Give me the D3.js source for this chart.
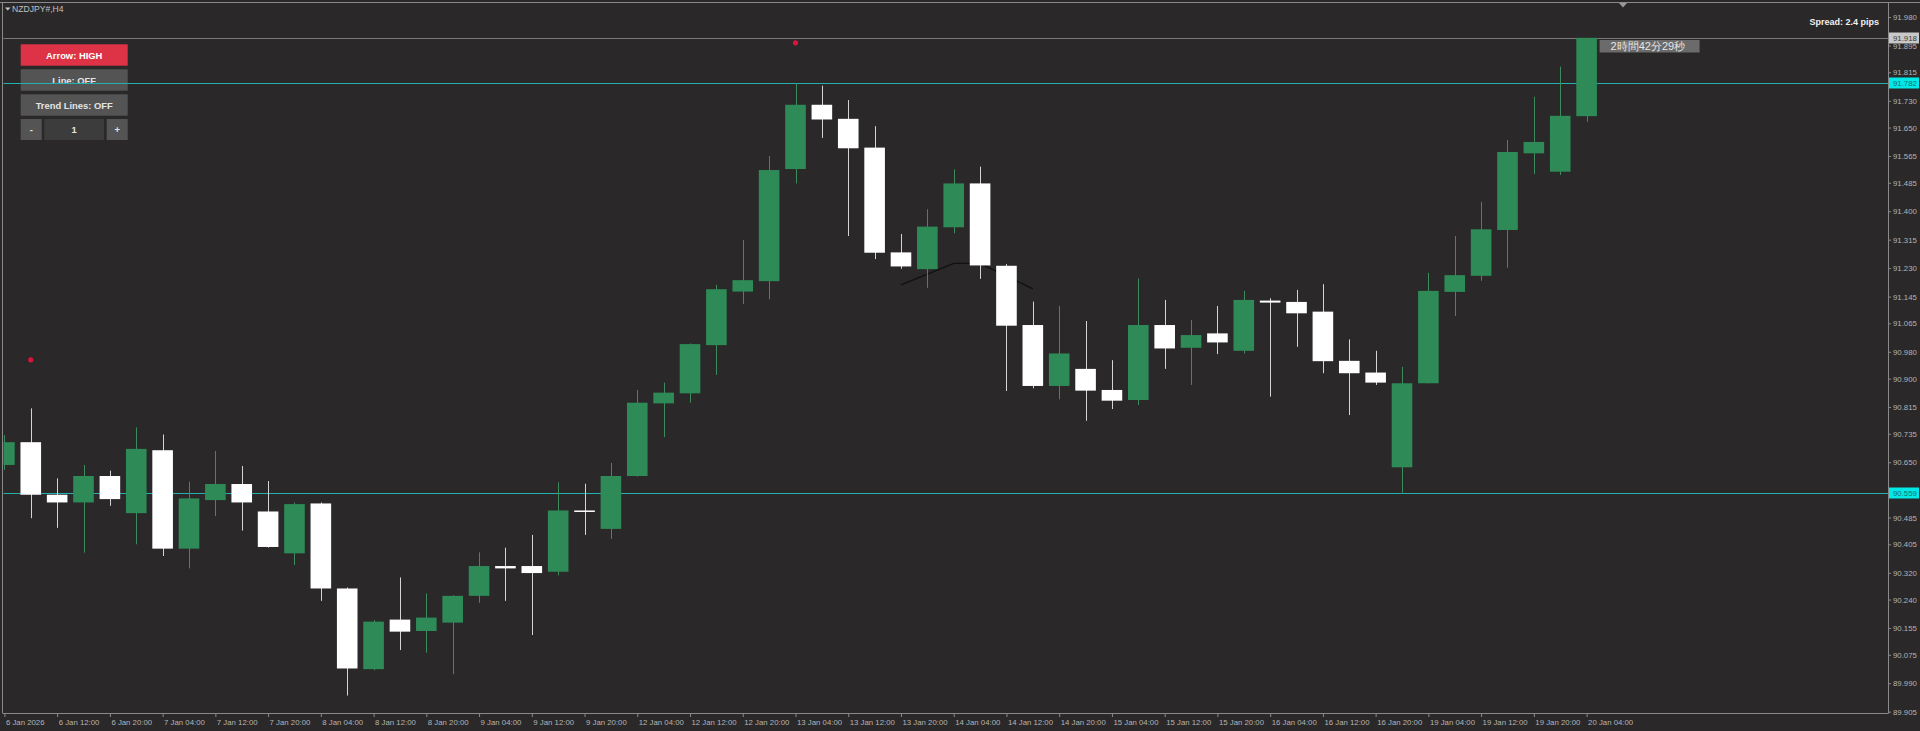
<!DOCTYPE html>
<html>
<head>
<meta charset="utf-8">
<script src="https://cdn.jsdelivr.net/npm/d3@7"></script>
<style>
	html, body { margin: 0; padding: 0; background: #2a2829; overflow: hidden; }
	svg { display: block; }
	text { font-family: "Liberation Sans", Arial, sans-serif; }
</style>
</head>
<body>
<svg id="main" width="1920" height="731"></svg>
<script>

// ---- data (NZDJPY#, H4) ----
const symbol = 'NZDJPY#,H4';

const xLabels = ['6 Jan 2026', '6 Jan 12:00', '6 Jan 20:00', '7 Jan 04:00', '7 Jan 12:00', '7 Jan 20:00',
	'8 Jan 04:00', '8 Jan 12:00', '8 Jan 20:00', '9 Jan 04:00', '9 Jan 12:00', '9 Jan 20:00',
	'12 Jan 04:00', '12 Jan 12:00', '12 Jan 20:00', '13 Jan 04:00', '13 Jan 12:00', '13 Jan 20:00',
	'14 Jan 04:00', '14 Jan 12:00', '14 Jan 20:00', '15 Jan 04:00', '15 Jan 12:00', '15 Jan 20:00',
	'16 Jan 04:00', '16 Jan 12:00', '16 Jan 20:00', '19 Jan 04:00', '19 Jan 12:00', '19 Jan 20:00',
	'20 Jan 04:00'];

const yTicks = [91.980, 91.895, 91.815, 91.730, 91.650, 91.565, 91.485, 91.400, 91.315, 91.230,
	91.145, 91.065, 90.980, 90.900, 90.815, 90.735, 90.650, 90.565, 90.485, 90.405, 90.320,
	90.240, 90.155, 90.075, 89.990, 89.905];

const opens = [90.642, 90.710, 90.553, 90.530, 90.609, 90.498, 90.686, 90.392, 90.537, 90.585,
	90.503, 90.378, 90.527, 90.273, 90.032, 90.180, 90.146, 90.171, 90.251, 90.340,
	90.340, 90.323, 90.506, 90.451, 90.609, 90.826, 90.856, 91.000, 91.160, 91.191,
	91.526, 91.718, 91.676, 91.590, 91.277, 91.227, 91.352, 91.483, 91.237, 91.060,
	90.878, 90.929, 90.866, 90.836, 91.060, 90.992, 91.035, 90.983, 91.133, 91.129,
	91.100, 90.953, 90.918, 90.635, 90.886, 91.159, 91.207, 91.344, 91.573, 91.518,
	91.684];
const highs = [90.731, 90.811, 90.602, 90.642, 90.625, 90.754, 90.733, 90.592, 90.684, 90.639,
	90.594, 90.530, 90.530, 90.276, 90.179, 90.306, 90.258, 90.253, 90.381, 90.395,
	90.433, 90.590, 90.586, 90.648, 90.866, 90.888, 91.005, 91.180, 91.314, 91.565,
	91.782, 91.775, 91.732, 91.654, 91.332, 91.406, 91.525, 91.533, 91.242, 91.130,
	91.117, 91.072, 90.955, 91.199, 91.135, 91.075, 91.117, 91.162, 91.140, 91.165,
	91.182, 91.017, 90.983, 90.935, 91.216, 91.326, 91.428, 91.613, 91.742, 91.832,
	91.918];
const lows = [90.627, 90.483, 90.454, 90.380, 90.520, 90.405, 90.370, 90.333, 90.489, 90.446,
	90.395, 90.343, 90.236, 89.953, 90.029, 90.089, 90.081, 90.017, 90.230, 90.236,
	90.134, 90.312, 90.433, 90.421, 90.607, 90.725, 90.828, 90.911, 91.123, 91.137,
	91.483, 91.619, 91.326, 91.257, 91.228, 91.171, 91.334, 91.198, 90.863, 90.871,
	90.838, 90.774, 90.809, 90.821, 90.929, 90.881, 90.973, 90.975, 90.846, 90.995,
	90.916, 90.791, 90.881, 90.559, 90.886, 91.087, 91.192, 91.231, 91.511, 91.508,
	91.667];
const closes = [90.710, 90.553, 90.530, 90.609, 90.540, 90.690, 90.392, 90.542, 90.585, 90.530,
	90.397, 90.525, 90.273, 90.034, 90.174, 90.144, 90.186, 90.251, 90.340, 90.333,
	90.319, 90.506, 90.504, 90.609, 90.828, 90.858, 91.003, 91.167, 91.194, 91.523,
	91.718, 91.674, 91.588, 91.276, 91.235, 91.354, 91.483, 91.238, 91.058, 90.878,
	90.975, 90.864, 90.834, 91.060, 90.990, 91.030, 91.008, 91.135, 91.127, 91.095,
	90.952, 90.916, 90.888, 90.886, 91.162, 91.209, 91.346, 91.577, 91.607, 91.685,
	91.918];

const levelLines = [91.782, 90.559];
const currentPrice = 91.918;
const arrowBars = [1, 30];
const arrowPrices = [90.956, 91.903];
const pathBars = [34, 36, 37, 39];
const pathPrices = [91.180, 91.244, 91.244, 91.168];
const spreadText = 'Spread: 2.4 pips';
const timerText = '2時間42分29秒';
const buttons = ['Arrow: HIGH', 'Line: OFF', 'Trend Lines: OFF'];

main();

function main() {

	let
		left = 3,
		top = 3,
		right = 1888,
		bottom = 713,
		bg = '#2a2829',
		green = '#2e8b57',
		frameCol = '#8a8a8a',
		labelCol = '#b4b4b4';

	let svg = d3.select('#main');

	svg.append('rect').attr('width', 1920).attr('height', 731).attr('fill', bg);

	let x = d3.scaleLinear().domain([0, opens.length - 1]).range([4.4, 1586.6]);
	let y = d3.scaleLinear().domain([89.901, 92.022]).range([bottom, top]);
	let bodyW = 20.6;

	svg.append('clipPath').attr('id', 'plot')
		.append('rect').attr('x', left + 0.5).attr('y', top).attr('width', right - left - 0.5).attr('height', bottom - top);

	// window frame
	svg.append('line').attr('x1', 0).attr('x2', 1920).attr('y1', 2.5).attr('y2', 2.5).attr('stroke', frameCol);
	svg.append('line').attr('x1', 2.5).attr('x2', 2.5).attr('y1', 2.5).attr('y2', bottom).attr('stroke', frameCol);

	// title
	svg.append('path').attr('d', 'M5,7.5 L10.5,7.5 L7.75,10.5 Z').attr('fill', '#c8c8c8');
	svg.append('text').attr('x', 12).attr('y', 12).attr('font-size', 8.6).attr('fill', '#c0c0c0').text(symbol);

	// buttons
	let btn = svg.append('g');
	buttons.forEach((b, k) => {
		btn.append('rect').attr('x', 20.7).attr('y', 44.3 + k * 25).attr('width', 107).attr('height', 21.4)
			.attr('fill', k === 0 ? '#de3346' : '#545454');
		btn.append('text').attr('x', 74.2).attr('y', 58.5 + k * 25).attr('text-anchor', 'middle')
			.attr('font-size', 9.4).attr('font-weight', 'bold').attr('fill', k === 0 ? '#ffffff' : '#e4e4e4').text(b);
	});
	[[20.7, 21, '-', '#545454'], [44.3, 59.7, '1', '#3c3c3c'], [106.7, 21, '+', '#545454']].forEach(d => {
		btn.append('rect').attr('x', d[0]).attr('y', 119).attr('width', d[1]).attr('height', 21).attr('fill', d[3]);
		btn.append('text').attr('x', d[0] + d[1] / 2).attr('y', 132.8).attr('text-anchor', 'middle')
			.attr('font-size', 9.4).attr('font-weight', 'bold').attr('fill', '#e4e4e4').text(d[2]);
	});

	let plot = svg.append('g').attr('clip-path', 'url(#plot)');

	// current price line
	plot.append('line').attr('x1', left).attr('x2', right)
		.attr('y1', Math.round(y(currentPrice)) + 0.5).attr('y2', Math.round(y(currentPrice)) + 0.5)
		.attr('stroke', '#7a7a7a');

	// level lines
	plot.selectAll('.level').data(levelLines).enter().append('line')
		.attr('class', 'level')
		.attr('x1', 0).attr('x2', right)
		.attr('y1', d => Math.round(y(d)) + 0.5).attr('y2', d => Math.round(y(d)) + 0.5)
		.attr('stroke', '#25b0b0').attr('stroke-width', 1.2);

	// small black path
	plot.append('path')
		.datum(pathBars.map((b, k) => [b, pathPrices[k]]))
		.attr('fill', 'none').attr('stroke', '#111').attr('stroke-width', 1.3)
		.attr('d', d3.line().x(d => x(d[0])).y(d => y(d[1])));

	let candles = opens.map((o, i) => ({ i: i, o: o, h: highs[i], l: lows[i], c: closes[i], up: closes[i] > o }));

	plot.selectAll('.wick').data(candles).enter().append('line')
		.attr('class', 'wick')
		.attr('x1', d => Math.round(x(d.i)) + 0.5).attr('x2', d => Math.round(x(d.i)) + 0.5)
		.attr('y1', d => y(d.h)).attr('y2', d => y(d.l))
		.attr('stroke', d => d.up ? '#3d8a5d' : '#d4d4d4');

	plot.selectAll('.body').data(candles).enter().append('rect')
		.attr('class', 'body')
		.attr('x', d => x(d.i) - bodyW / 2)
		.attr('width', bodyW)
		.attr('y', d => y(Math.max(d.o, d.c)))
		.attr('height', d => Math.max(1.5, Math.abs(y(d.o) - y(d.c))))
		.attr('fill', d => d.up ? green : '#ffffff');

	plot.selectAll('.arrow').data(arrowBars).enter().append('circle')
		.attr('class', 'arrow')
		.attr('cx', d => x(d)).attr('cy', (d, k) => y(arrowPrices[k]))
		.attr('r', 2.6).attr('fill', '#dc143c');

	// frame on the axis sides
	svg.append('line').attr('x1', right + 0.5).attr('x2', right + 0.5).attr('y1', 2.5).attr('y2', bottom + 0.5).attr('stroke', frameCol);
	svg.append('line').attr('x1', 2.5).attr('x2', right + 0.5).attr('y1', bottom + 0.5).attr('y2', bottom + 0.5).attr('stroke', frameCol);

	// price axis
	let yAxis = d3.axisRight(y).tickValues(yTicks).tickSize(3).tickPadding(2).tickFormat(d3.format('.3f'));
	let gy = svg.append('g').attr('transform', `translate(${right},0)`).call(yAxis);
	gy.select('.domain').remove();
	gy.selectAll('line').attr('stroke', frameCol);
	gy.selectAll('text').attr('fill', labelCol).attr('font-size', 7.8).attr('font-family', '"Liberation Sans", Arial, sans-serif');

	// time axis
	let xAxis = d3.axisBottom(x).tickValues(xLabels.map((d, k) => 2 * k)).tickSize(4).tickPadding(2)
		.tickFormat(d => xLabels[d / 2]);
	let gx = svg.append('g').attr('transform', `translate(0,${bottom})`).call(xAxis);
	gx.select('.domain').remove();
	gx.selectAll('line').attr('stroke', frameCol);
	gx.selectAll('text').attr('fill', labelCol).attr('font-size', 7.8).attr('text-anchor', 'start').attr('dx', 1)
		.attr('font-family', '"Liberation Sans", Arial, sans-serif');

	// price tags on the axis
	let tags = [
		{ p: currentPrice, fill: '#c8c8c8', col: '#3a3a3a' },
		{ p: levelLines[0], fill: '#00e8e8', col: '#1d6c6c' },
		{ p: levelLines[1], fill: '#00e8e8', col: '#1d6c6c' }
	];
	let tg = svg.append('g').selectAll('g').data(tags).enter().append('g')
		.attr('transform', d => `translate(${right + 1},${Math.round(y(d.p))})`);
	tg.append('rect').attr('x', 0).attr('y', -5.5).attr('width', 30).attr('height', 11).attr('fill', d => d.fill);
	tg.append('text').attr('x', 4).attr('y', 3).attr('font-size', 7.8).attr('fill', d => d.col).text(d => d.p.toFixed(3));

	// chart shift marker
	let sx = Math.round(x(opens.length - 1)) + 36;
	svg.append('path').attr('d', `M${sx - 4},3 L${sx + 4},3 L${sx},7.5 Z`).attr('fill', '#9a9a9a');

	// spread
	svg.append('text').attr('x', 1879).attr('y', 25).attr('text-anchor', 'end')
		.attr('font-size', 9).attr('font-weight', 'bold').attr('fill', '#f0f0f0').text(spreadText);

	// bar timer
	let tx = x(opens.length - 1) + 13;
	svg.append('rect').attr('x', tx).attr('y', 40).attr('width', 100).attr('height', 12.5).attr('fill', '#6b6b6b');
	svg.append('text').attr('x', tx + 11).attr('y', 50.3).attr('font-size', 11)
		.attr('font-family', '"Noto Sans CJK JP", sans-serif').attr('fill', '#e6e6e6').text(timerText);

}
</script>
</body>
</html>
